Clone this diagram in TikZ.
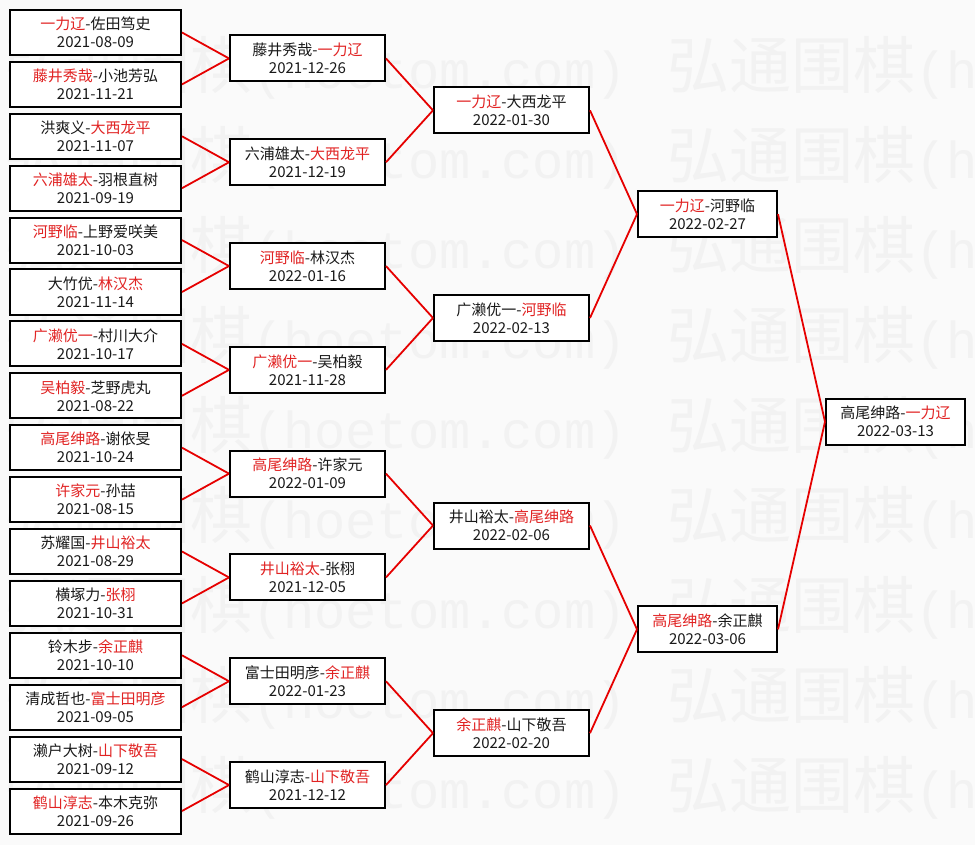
\documentclass[tikz,border=0pt]{standalone}
\usepackage{fontspec}
\setmainfont{Noto Sans CJK SC}
\newfontfamily\wmcjk{Noto Sans CJK SC}
\newfontfamily\wmmono{Liberation Mono}
\definecolor{wred}{RGB}{225,35,35}
\definecolor{lred}{RGB}{230,0,0}
\definecolor{bgc}{RGB}{250,250,250}
\definecolor{wmc}{RGB}{242,242,242}
\definecolor{txt}{RGB}{25,25,25}
\newcommand\redn[1]{\textcolor{wred}{#1}}
\newcommand\wmtext{{\wmcjk\fontsize{62}{62}\selectfont 弘通围棋}{\wmmono\fontsize{52}{62}\selectfont(hoetom.com)}}
\tikzset{
  game/.style={draw=black, line width=2pt, fill=white, rectangle, inner sep=0pt,
    align=center, text=txt, font=\fontsize{15}{18}\selectfont},
  c1/.style={game, minimum width=171pt, minimum height=45pt},
  c2/.style={game, minimum width=155pt, minimum height=46pt},
  c4/.style={game, minimum width=139pt, minimum height=46pt},
  link/.style={draw=lred, line width=1.8pt},
  wm/.style={anchor=west, inner sep=0pt, text=wmc}
}
\begin{document}
\begin{tikzpicture}[x=1pt,y=-1pt]
\path[use as bounding box, fill=bgc] (0,0) rectangle (975,845);
\begin{scope}
\clip (0,0) rectangle (975,845);
\foreach \k in {0,...,8}{
  \node[wm] (wma\k) at (4,{68+90*\k}) {\wmtext};
  \node[wm] (wmb\k) at (667,{68+90*\k}) {\wmtext};
}
\end{scope}
% column 1
\node[c1] (a1) at (95.5,32.5) {\redn{一力辽}-佐田笃史\\2021-08-09};
\node[c1] (a2) at (95.5,84.4) {\redn{藤井秀哉}-小池芳弘\\2021-11-21};
\node[c1] (a3) at (95.5,136.3) {洪爽义-\redn{大西龙平}\\2021-11-07};
\node[c1] (a4) at (95.5,188.2) {\redn{六浦雄太}-羽根直树\\2021-09-19};
\node[c1] (a5) at (95.5,240.1) {\redn{河野临}-上野爱咲美\\2021-10-03};
\node[c1] (a6) at (95.5,292.0) {大竹优-\redn{林汉杰}\\2021-11-14};
\node[c1] (a7) at (95.5,343.9) {\redn{广濑优一}-村川大介\\2021-10-17};
\node[c1] (a8) at (95.5,395.8) {\redn{吴柏毅}-芝野虎丸\\2021-08-22};
\node[c1] (a9) at (95.5,447.7) {\redn{高尾绅路}-谢依旻\\2021-10-24};
\node[c1] (a10) at (95.5,499.6) {\redn{许家元}-孙喆\\2021-08-15};
\node[c1] (a11) at (95.5,551.5) {苏耀国-\redn{井山裕太}\\2021-08-29};
\node[c1] (a12) at (95.5,603.4) {横塚力-\redn{张栩}\\2021-10-31};
\node[c1] (a13) at (95.5,655.3) {铃木步-\redn{余正麒}\\2021-10-10};
\node[c1] (a14) at (95.5,707.2) {清成哲也-\redn{富士田明彦}\\2021-09-05};
\node[c1] (a15) at (95.5,759.1) {濑户大树-\redn{山下敬吾}\\2021-09-12};
\node[c1] (a16) at (95.5,811.0) {\redn{鹤山淳志}-本木克弥\\2021-09-26};
% column 2
\node[c2] (b1) at (307.5,58.45) {藤井秀哉-\redn{一力辽}\\2021-12-26};
\node[c2] (b2) at (307.5,162.25) {六浦雄太-\redn{大西龙平}\\2021-12-19};
\node[c2] (b3) at (307.5,266.05) {\redn{河野临}-林汉杰\\2022-01-16};
\node[c2] (b4) at (307.5,369.85) {\redn{广濑优一}-吴柏毅\\2021-11-28};
\node[c2] (b5) at (307.5,473.65) {\redn{高尾绅路}-许家元\\2022-01-09};
\node[c2] (b6) at (307.5,577.45) {\redn{井山裕太}-张栩\\2021-12-05};
\node[c2] (b7) at (307.5,681.25) {富士田明彦-\redn{余正麒}\\2022-01-23};
\node[c2] (b8) at (307.5,785.05) {鹤山淳志-\redn{山下敬吾}\\2021-12-12};
% column 3
\node[c2] (c1) at (511.5,110.35) {\redn{一力辽}-大西龙平\\2022-01-30};
\node[c2] (c2) at (511.5,317.95) {广濑优一-\redn{河野临}\\2022-02-13};
\node[c2] (c3) at (511.5,525.55) {井山裕太-\redn{高尾绅路}\\2022-02-06};
\node[c2] (c4) at (511.5,733.15) {\redn{余正麒}-山下敬吾\\2022-02-20};
% column 4
\node[c4] (d1) at (707.5,214.15) {\redn{一力辽}-河野临\\2022-02-27};
\node[c4] (d2) at (707.5,629.35) {\redn{高尾绅路}-余正麒\\2022-03-06};
% final
\node[c4] (e1) at (895.5,421.75) {高尾绅路-\redn{一力辽}\\2022-03-13};
% connectors
\foreach \i/\p in {1/1,2/1,3/2,4/2,5/3,6/3,7/4,8/4,9/5,10/5,11/6,12/6,13/7,14/7,15/8,16/8}{
  \draw[link] (a\i.east) -- (b\p.west);
}
\foreach \i/\p in {1/1,2/1,3/2,4/2,5/3,6/3,7/4,8/4}{
  \draw[link] (b\i.east) -- (c\p.west);
}
\foreach \i/\p in {1/1,2/1,3/2,4/2}{
  \draw[link] (c\i.east) -- (d\p.west);
}
\draw[link] (d1.east) -- (e1.west);
\draw[link] (d2.east) -- (e1.west);
\end{tikzpicture}
\end{document}
